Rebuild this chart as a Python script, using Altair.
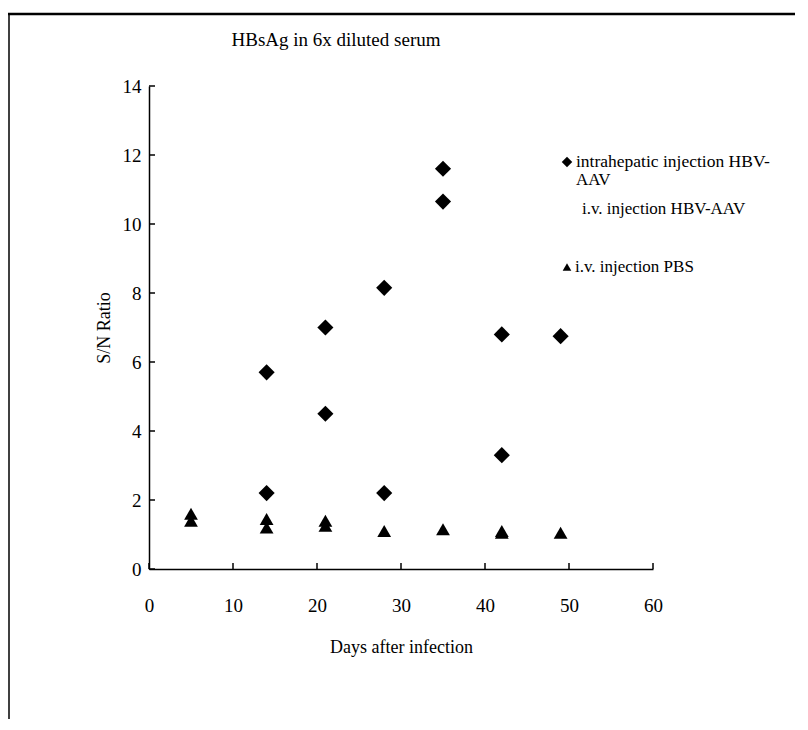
import altair as alt
import pandas as pd

# ---- data ----
days_ih = [14, 14, 21, 21, 28, 28, 35, 35, 42, 42, 49]
sn_ih = [5.7, 2.2, 7.0, 4.5, 8.15, 2.2, 11.6, 10.65, 6.8, 3.3, 6.75]

days_pbs = [5, 5, 14, 14, 21, 21, 28, 35, 42, 42, 49]
sn_pbs = [1.6, 1.4, 1.45, 1.2, 1.4, 1.25, 1.1, 1.15, 1.05, 1.1, 1.05]

x_ticks = [0, 10, 20, 30, 40, 50, 60]
y_ticks = [0, 2, 4, 6, 8, 10, 12, 14]

title_text = "HBsAg in 6x diluted serum"
x_title = "Days after infection"
y_title = "S/N Ratio"
legend_lines = ["intrahepatic injection HBV-", "AAV", "i.v. injection HBV-AAV", "i.v. injection PBS"]

FONT = "Liberation Serif"
W, H = 504, 483

df_ih = pd.DataFrame({"day": days_ih, "sn": sn_ih})
df_pbs = pd.DataFrame({"day": days_pbs, "sn": sn_pbs})
df_xt = pd.DataFrame({"day": x_ticks})
df_yt = pd.DataFrame({"sn": y_ticks})

xscale = alt.Scale(domain=[0, 60], nice=False, zero=False)
yscale = alt.Scale(domain=[0, 14], nice=False, zero=False)

X = alt.X("day:Q", scale=xscale, axis=alt.Axis(
    values=x_ticks, ticks=False, grid=False, labelFontSize=19, labelPadding=27,
    labelFont=FONT, labelColor="black", title=x_title, titleFont=FONT,
    titleFontSize=18, titleFontWeight="normal", titleColor="black", titlePadding=23,
    domainColor="black", domainWidth=1.5, labelFlush=False))
Y = alt.Y("sn:Q", scale=yscale, axis=alt.Axis(
    values=y_ticks, ticks=False, grid=False, labelFontSize=19, labelPadding=8,
    labelFont=FONT, labelColor="black", title=y_title, titleFont=FONT,
    titleFontSize=18, titleFontWeight="normal", titleColor="black", titlePadding=9,
    domainColor="black", domainWidth=1.5, labelFlush=False))

ih = alt.Chart(df_ih).mark_point(shape="diamond", filled=True, size=260,
                                 color="black", opacity=1).encode(x=X, y=Y)
pbs = alt.Chart(df_pbs).mark_point(shape="triangle-up", filled=True, size=190,
                                   color="black", opacity=1).encode(x=X, y=Y)

# inward tick marks
xt = alt.Chart(df_xt).mark_rule(color="black", strokeWidth=1.5).encode(
    x=alt.X("day:Q", scale=xscale), y=alt.value(H), y2=alt.value(H - 6))
yt = alt.Chart(df_yt).mark_rule(color="black", strokeWidth=1.5).encode(
    y=alt.Y("sn:Q", scale=yscale), x=alt.value(0), x2=alt.value(6))

def txt(s, x, y, size, align="left"):
    return alt.Chart(pd.DataFrame({"t": [s]})).mark_text(
        font=FONT, fontSize=size, align=align, baseline="middle", color="black"
    ).encode(x=alt.value(x), y=alt.value(y), text="t:N")

title = txt(title_text, 187, -46, 19, "center")

leg_d = alt.Chart(pd.DataFrame({"t": ["d"]})).mark_point(
    shape="diamond", filled=True, size=110, color="black", opacity=1
).encode(x=alt.value(418), y=alt.value(76))
leg_t = alt.Chart(pd.DataFrame({"t": ["t"]})).mark_point(
    shape="triangle-up", filled=True, size=75, color="black", opacity=1
).encode(x=alt.value(418), y=alt.value(181))
l1 = txt(legend_lines[0], 427, 76, 17.5)
l2 = txt(legend_lines[1], 427, 94, 17)
l3 = txt(legend_lines[2], 433, 123, 17)
l4 = txt(legend_lines[3], 426, 181, 17)

# outer frame of the scanned figure
frame_top = alt.Chart(pd.DataFrame({"t": [0]})).mark_rule(color="black", strokeWidth=2.5).encode(
    x=alt.value(-141), x2=alt.value(646), y=alt.value(-72))
frame_left = alt.Chart(pd.DataFrame({"t": [0]})).mark_rule(color="black", strokeWidth=1.5).encode(
    x=alt.value(-140), y=alt.value(-73), y2=alt.value(636))

chart = alt.layer(
    frame_top, frame_left, xt, yt, pbs, ih, title, leg_d, leg_t, l1, l2, l3, l4
).properties(
    width=W, height=H,
    background="white",
    autosize=alt.AutoSizeParams(type="none"),
    padding={"left": 141, "top": 78, "right": 147, "bottom": 150},
).configure_view(stroke="transparent", strokeWidth=0)

chart.save("out.html", embed_options={"renderer": "svg", "actions": False})
